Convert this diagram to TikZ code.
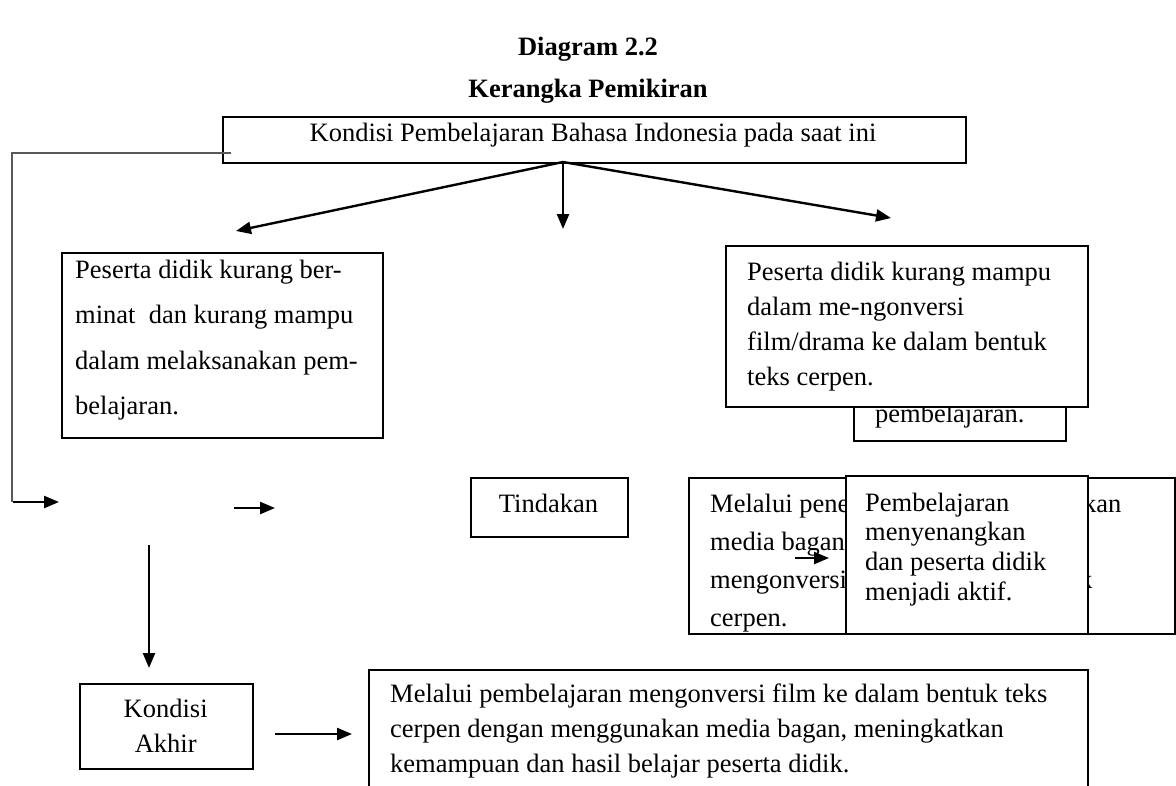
\documentclass[tikz,border=0pt]{standalone}
\usepackage{fontspec}
\setmainfont{Liberation Serif}
\usetikzlibrary{arrows.meta}
\tikzset{
  bx/.style={draw, line width=2.3pt, fill=white, inner sep=0pt, anchor=north west},
  tx/.style={anchor=base west, inner sep=0pt, font=\fontsize{26.5}{#1}\selectfont},
  tc/.style={anchor=base, inner sep=0pt, font=\fontsize{26.5}{#1}\selectfont},
  ttl/.style={anchor=base, inner sep=0pt, font=\bfseries\fontsize{26.5}{30}\selectfont},
  ar/.style={line width=2.4pt, -{Triangle[length=15pt,width=12pt]}},
  gl/.style={draw=black!65, line width=1.5pt},
}
\begin{document}
\begin{tikzpicture}[x=1pt,y=-1pt]
\clip (0,0) rectangle (1176,785);
\fill[white] (0,0) rectangle (1176,785);

% titles
\node[ttl] (t1) at (588,55) {Diagram 2.2};
\node[ttl] (t2) at (588,97) {Kerangka Pemikiran};

% top box
\node[bx, minimum width=743pt, minimum height=46pt] (top) at (222,116) {};
\node[tc=30] (toptx) at (593,141) {Kondisi Pembelajaran Bahasa Indonesia pada saat ini};

% arrows from the top box
\coordinate (o) at (563,162);
\coordinate (aL) at (236,231);
\coordinate (aM) at (563,229);
\coordinate (aR) at (891,218);
\draw[ar] (o) -- (aL);
\draw[ar] (o) -- (aM);
\draw[ar] (o) -- (aR);

% grey feedback line
\coordinate (g0) at (231,153);
\coordinate (g1) at (12,153);
\coordinate (g2) at (12,502);
\draw[gl] (g0) -- (g1) -- (g2);

% floating arrows at left
\coordinate (p1) at (13,502);
\coordinate (p2) at (59,502);
\coordinate (p3) at (234,508);
\coordinate (p4) at (275,508);
\draw[ar] (p1) -- (p2);
\draw[ar] (p3) -- (p4);

% left box
\node[bx, minimum width=321pt, minimum height=185pt] (lb) at (61,252) {};
\node[tx=45.5] (lbt) at (75,278) {\vtop{\hbox{Peserta didik kurang ber-}\hbox{minat\ \ dan kurang mampu}\hbox{dalam melaksanakan pem-}\hbox{belajaran.}}};

% right boxes (back and front)
\node[bx, minimum width=212pt, minimum height=120pt] (rb) at (853,320) {};
\node[tx=36] (rbt) at (875,422) {pembelajaran.};
\node[bx, minimum width=362pt, minimum height=161pt] (rf) at (725,245) {};
\node[tx=35] (rft) at (747,280) {\vtop{\hbox{Peserta didik kurang mampu}\hbox{dalam me-ngonversi}\hbox{film/drama ke dalam bentuk}\hbox{teks cerpen.}}};

% Tindakan
\node[bx, minimum width=157pt, minimum height=59pt] (tin) at (470,477) {};
\node[tc=30] (tint) at (548.5,512) {Tindakan};

% Melalui box (partly covered)
\node[bx, minimum width=486pt, minimum height=156pt] (mel) at (688,477) {};
\node[tx=38] (melt) at (710,512) {\vtop{\hbox{Melalui pene}\hbox{media bagan}\hbox{mengonversi}\hbox{cerpen.}}};
\node[tx=38] (melk) at (1083,512) {kan};
\node[tx=38] (melk2) at (1079,588) {k};
\coordinate (s1) at (795,558);
\coordinate (s2) at (829,558);
\draw[ar] (s1) -- (s2);

% Pembelajaran box
\node[bx, minimum width=242pt, minimum height=158pt] (pem) at (845,475) {};
\node[tx=29.7] (pemt) at (865,511) {\vtop{\hbox{Pembelajaran}\hbox{menyenangkan}\hbox{dan peserta didik}\hbox{menjadi aktif.}}};

% down arrow and Kondisi Akhir
\coordinate (d1) at (149,545);
\coordinate (d2) at (149,668);
\draw[ar] (d1) -- (d2);
\node[bx, minimum width=173pt, minimum height=85pt] (ka) at (79,683) {};
\node[tx=35] (kat) at (79,717) {\vtop{\hbox to 173pt{\hfil Kondisi\hfil}\hbox to 173pt{\hfil Akhir\hfil}}};

% arrow to bottom box
\coordinate (b1) at (275,734);
\coordinate (b2) at (352,734);
\draw[ar] (b1) -- (b2);

% bottom box
\node[bx, minimum width=719pt, minimum height=150pt] (bot) at (368,669) {};
\node[tx=35] (bott) at (390,702) {\vtop{\hbox{Melalui pembelajaran mengonversi film ke dalam bentuk teks}\hbox{cerpen dengan menggunakan media bagan, meningkatkan}\hbox{kemampuan dan hasil belajar peserta didik.}}};
\end{tikzpicture}
\end{document}
